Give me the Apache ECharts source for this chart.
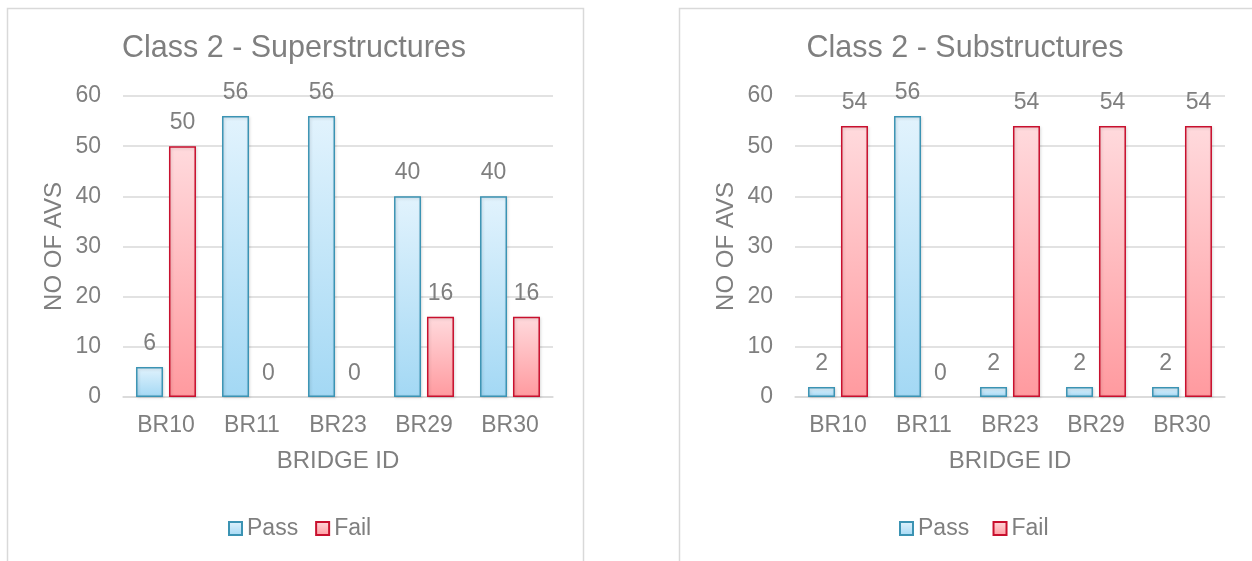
<!DOCTYPE html>
<html><head><meta charset="utf-8">
<script src="https://cdn.jsdelivr.net/npm/echarts@6/dist/echarts.min.js"></script>
<style>html,body{margin:0;padding:0;background:#fff}#c{width:1252px;height:561px}</style>
</head><body><div id="c"></div>
<script>
const categories = ['BR10','BR11','BR23','BR29','BR30'];
const superPass = [6,56,56,40,40];
const superFail = [50,0,0,16,16];
const subPass = [2,56,2,2,2];
const subFail = [54,0,54,54,54];
const yTicks = {min:0,max:60,interval:10};
const titles = ['Class 2 - Superstructures','Class 2 - Substructures'];

const txt = '#7f7f7f';
const font = 'Arial, "Liberation Sans", sans-serif';
function grad(a,b){return new echarts.graphic.LinearGradient(0,0,0,1,[{offset:0,color:a},{offset:1,color:b}]);}
const passStyle = {color:grad('#e2f3fd','#a3d8f4'),borderColor:'#3b93b3',borderWidth:1.5,shadowColor:'rgba(0,0,0,0.15)',shadowBlur:3,shadowOffsetX:1,shadowOffsetY:1};
const failStyle = {color:grad('#ffdadd','#ff9a9f'),borderColor:'#c8102e',borderWidth:1.5,shadowColor:'rgba(0,0,0,0.15)',shadowBlur:3,shadowOffsetX:1,shadowOffsetY:1};

const chart = echarts.init(document.getElementById('c'));
const grids = [{left:123,width:430,top:96,height:301},{left:795,width:430,top:96,height:301}];
const centers = [289,960];
const legendLeft = [223,894];
function bar(name,data,i,style){
  return {type:'bar',name:name,
    data:data.map(v=>v===0?{value:v,itemStyle:{borderWidth:0,shadowBlur:0,shadowOffsetX:0,shadowOffsetY:0,opacity:0}}:v),
    xAxisIndex:i,yAxisIndex:i,barWidth:27,barGap:'22%',
    itemStyle:style,
    label:{show:true,position:'top',distance:12,color:txt,fontSize:23,fontFamily:font,opacity:1}};
}
chart.setOption({
  animation:false,
  textStyle:{fontFamily:font},
  graphic:[
    {type:'rect',shape:{x:7.5,y:8.5,width:576,height:560},style:{fill:'none',stroke:'#d9d9d9',lineWidth:1.5}},
    {type:'rect',shape:{x:679.5,y:8.5,width:620,height:560},style:{fill:'none',stroke:'#d9d9d9',lineWidth:1.5}}
  ],
  title:titles.map((t,i)=>({text:t,left:centers[i],top:28,textAlign:'center',
    textStyle:{color:txt,fontSize:30.5,fontWeight:'normal',fontFamily:font}})),
  legend:[0,1].map(i=>({left:legendLeft[i],top:512,orient:'horizontal',
    data:i===0?['Pass','Fail']:['Pass ','Fail '],
    itemWidth:13,itemHeight:13,itemGap:17,icon:'rect',
    textStyle:{color:txt,fontSize:23,fontFamily:font}})),
  grid:grids,
  xAxis:[0,1].map(i=>({type:'category',gridIndex:i,data:categories,
    axisLine:{lineStyle:{color:'#d9d9d9',width:1.5}},axisTick:{show:false},
    axisLabel:{color:txt,fontSize:23,margin:17,fontFamily:font},
    name:'BRIDGE ID',nameLocation:'middle',nameGap:52,nameTextStyle:{color:txt,fontSize:24,fontFamily:font}})),
  yAxis:[0,1].map(i=>({type:'value',gridIndex:i,min:yTicks.min,max:yTicks.max,interval:yTicks.interval,
    axisLine:{show:false},axisTick:{show:false},
    splitLine:{lineStyle:{color:'#d9d9d9',width:1.5}},
    axisLabel:{color:txt,fontSize:23,margin:22,fontFamily:font},
    name:'NO OF AVS',nameLocation:'middle',nameGap:57,nameTextStyle:{color:txt,fontSize:24,fontFamily:font}})),
  series:[
    bar('Pass',superPass,0,passStyle),
    bar('Fail',superFail,0,failStyle),
    bar('Pass ',subPass,1,passStyle),
    bar('Fail ',subFail,1,failStyle)
  ]
});
</script></body></html>
